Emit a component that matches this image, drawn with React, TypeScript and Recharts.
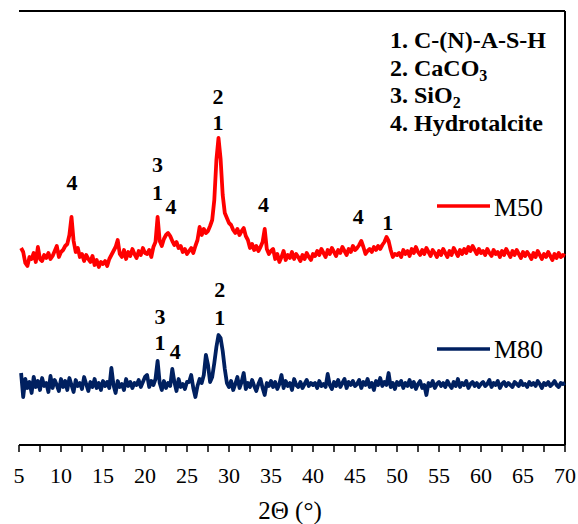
import { LineChart, Line, XAxis, YAxis, ReferenceDot, ReferenceLine } from 'recharts';

// XRD patterns on a 0.25° grid (intensity in arbitrary units)
const angleStart = 5.25;
const angleStep = 0.25;

const m50 = [
  197, 193, 182, 179, 188, 186, 192, 183, 198, 186, 184, 190, 187, 192, 186, 189, 194, 199, 188, 193,
  195, 199, 201, 210, 228, 204, 193, 197, 188, 191, 184, 190, 186, 183, 189, 180, 185, 178, 183, 181,
  184, 179, 186, 190, 194, 198, 205, 191, 188, 195, 186, 193, 189, 196, 191, 187, 194, 190, 197, 192,
  191, 195, 188, 198, 203, 228, 204, 199, 206, 210, 212, 209, 204, 200, 203, 197, 199, 193, 196, 191,
  194, 197, 192, 199, 205, 218, 210, 216, 212, 214, 219, 225, 245, 285, 307, 286, 250, 232, 227, 222,
  220, 215, 212, 216, 210, 214, 217, 209, 205, 197, 201, 195, 199, 194, 198, 203, 216, 196, 191, 194,
  196, 186, 191, 183, 188, 194, 185, 190, 187, 193, 186, 191, 188, 184, 190, 186, 192, 188, 185, 191,
  189, 194, 190, 196, 192, 188, 195, 191, 197, 193, 189, 195, 192, 198, 194, 190, 196, 193, 199, 195,
  197, 200, 204, 198, 191, 194, 196, 193, 198, 195, 199, 196, 200, 203, 208, 204, 195, 188, 191, 190,
  192, 188, 195, 191, 194, 189, 196, 192, 198, 193, 190, 195, 191, 197, 193, 189, 195, 192, 188, 194,
  190, 196, 192, 188, 194, 190, 197, 193, 189, 195, 191, 196, 192, 198, 194, 199, 195, 191, 196, 192,
  194, 190, 196, 192, 189, 195, 191, 193, 188, 194, 190, 196, 192, 188, 194, 190, 195, 191, 187, 193,
  189, 193, 190, 186, 192, 188, 194, 190, 186, 191, 188, 193, 189, 185, 191, 187, 192, 188, 190, 189,
];

const m80 = [
  72, 48, 66, 57, 63, 52, 68, 58, 64, 55, 67, 59, 62, 53, 69, 57, 65, 60, 54, 66,
  58, 64, 55, 67, 60, 53, 65, 59, 62, 56, 68, 61, 54, 63, 58, 66, 57, 62, 55, 64,
  59, 63, 57, 77, 60, 52, 64, 58, 61, 55, 66, 59, 63, 57, 62, 60, 65, 58, 63, 68,
  70, 58, 64, 60, 66, 84, 62, 55, 64, 57, 62, 59, 76, 63, 54, 66, 58, 61, 56, 63,
  63, 70, 57, 48, 59, 66, 62, 70, 90, 80, 63, 68, 82, 98, 110, 107, 94, 76, 62, 58,
  64, 55, 61, 68, 57, 63, 72, 56, 62, 58, 65, 59, 54, 61, 66, 57, 50, 62, 59, 64,
  58, 63, 56, 61, 70, 57, 64, 59, 62, 55, 66, 60, 58, 63, 57, 61, 65, 59, 62, 60,
  62, 57, 64, 59, 61, 58, 71, 60, 56, 63, 59, 65, 58, 62, 66, 57, 63, 60, 64, 59,
  61, 65, 57, 63, 60, 66, 58, 62, 55, 64, 60, 67, 59, 63, 60, 72, 58, 62, 56, 63,
  60, 64, 57, 62, 59, 65, 58, 63, 56, 61, 64, 57, 60, 50, 62, 59, 64, 57, 61, 63,
  59, 62, 58, 64, 60, 57, 63, 59, 66, 58, 62, 60, 64, 57, 61, 63, 59, 62, 58, 61,
  63, 59, 61, 65, 58, 62, 60, 64, 57, 61, 63, 59, 62, 60, 58, 63, 61, 59, 64, 60,
  61, 58, 63, 60, 62, 59, 64, 61, 57, 62, 60, 63, 59, 61, 64, 60, 58, 62, 61, 62,
];

const xTicks = [
  5, 7.5, 10, 12.5, 15, 17.5, 20, 22.5, 25, 27.5, 30, 32.5, 35, 37.5, 40,
  42.5, 45, 47.5, 50, 52.5, 55, 57.5, 60, 62.5, 65, 67.5, 70,
];

// phase markers above the peaks: [2θ, height, label]
const m50Marks: [number, number, string][] = [
  [11.3, 262, '4'],
  [21.5, 280, '3'],
  [21.5, 252, '1'],
  [23.1, 238, '4'],
  [28.7, 348, '2'],
  [28.7, 322, '1'],
  [34.1, 240, '4'],
  [45.4, 228, '4'],
  [48.9, 222, '1'],
];

const m80Marks: [number, number, string][] = [
  [21.8, 128, '3'],
  [21.8, 102, '1'],
  [23.6, 93, '4'],
  [28.9, 155, '2'],
  [28.9, 127, '1'],
];

const rows = m50.map((v, i) => ({
  t: angleStart + i * angleStep,
  m50: v,
  m80: m80[i],
}));

const serif = "'Liberation Serif', 'Times New Roman', serif";
const RED = '#ff0000';
const NAVY = '#002060';

const markShape = (text: string) => (p: any) => (
  <text
    x={p.cx}
    y={p.cy}
    dy="0.34em"
    textAnchor="middle"
    style={{ fontFamily: serif, fontWeight: 'bold', fontSize: 22 }}
    fill="#000"
  >
    {text}
  </text>
);

export default function App() {
  return (
    <div style={{ position: 'absolute', left: 0, top: 0, width: 578, height: 524, background: '#fff' }}>
      <LineChart
        width={578}
        height={524}
        data={rows}
        margin={{ top: 11, right: 13, left: 19, bottom: 39 }}
      >
        <XAxis
          dataKey="t"
          type="number"
          domain={[5, 70]}
          ticks={xTicks}
          interval={0}
          height={40}
          tickSize={7}
          tickMargin={15}
          tickFormatter={(v: number) => (v % 5 === 0 ? String(v) : '')}
          tick={{ fontFamily: serif, fontSize: 22, fill: '#000' }}
          axisLine={{ stroke: '#000', strokeWidth: 2 }}
          tickLine={{ stroke: '#000', strokeWidth: 1.5 }}
        />
        <YAxis
          domain={[0, 434]}
          width={0}
          tick={false}
          tickLine={false}
          axisLine={{ stroke: '#000', strokeWidth: 2 }}
        />
        {/* box frame: top and right edges */}
        <ReferenceLine y={434} stroke="#000" strokeWidth={2} />
        <ReferenceLine x={70} stroke="#000" strokeWidth={2} />
        <Line
          type="linear"
          dataKey="m50"
          stroke={RED}
          strokeWidth={3.8}
          strokeLinejoin="round"
          dot={false}
          isAnimationActive={false}
        />
        <Line
          type="linear"
          dataKey="m80"
          stroke={NAVY}
          strokeWidth={3.8}
          strokeLinejoin="round"
          dot={false}
          isAnimationActive={false}
        />
        {[...m50Marks, ...m80Marks].map(([t, v, text], i) => (
          <ReferenceDot key={i} x={t} y={v} r={0} shape={markShape(text)} />
        ))}
      </LineChart>

      <svg
        width={578}
        height={524}
        style={{ position: 'absolute', left: 0, top: 0, pointerEvents: 'none' }}
      >
        <g style={{ fontFamily: serif, fontWeight: 'bold', fontSize: 24 }} fill="#000">
          <text x={390} y={48}>1. C-(N)-A-S-H</text>
          <text x={390} y={75.5}>
            2. CaCO<tspan fontSize={16} dy={5}>3</tspan>
          </text>
          <text x={390} y={103}>
            3. SiO<tspan fontSize={16} dy={5}>2</tspan>
          </text>
          <text x={390} y={130.5}>4. Hydrotalcite</text>
        </g>

        <line x1={437} x2={490} y1={206} y2={206} stroke={RED} strokeWidth={3.5} />
        <text x={494} y={216} style={{ fontFamily: serif, fontSize: 26 }} fill="#000">M50</text>
        <line x1={437} x2={490} y1={349} y2={349} stroke={NAVY} strokeWidth={3.5} />
        <text x={494} y={358} style={{ fontFamily: serif, fontSize: 26 }} fill="#000">M80</text>

        <text x={290} y={519} textAnchor="middle" style={{ fontFamily: serif, fontSize: 25 }} fill="#000">
          2Θ (°)
        </text>
      </svg>
    </div>
  );
}
